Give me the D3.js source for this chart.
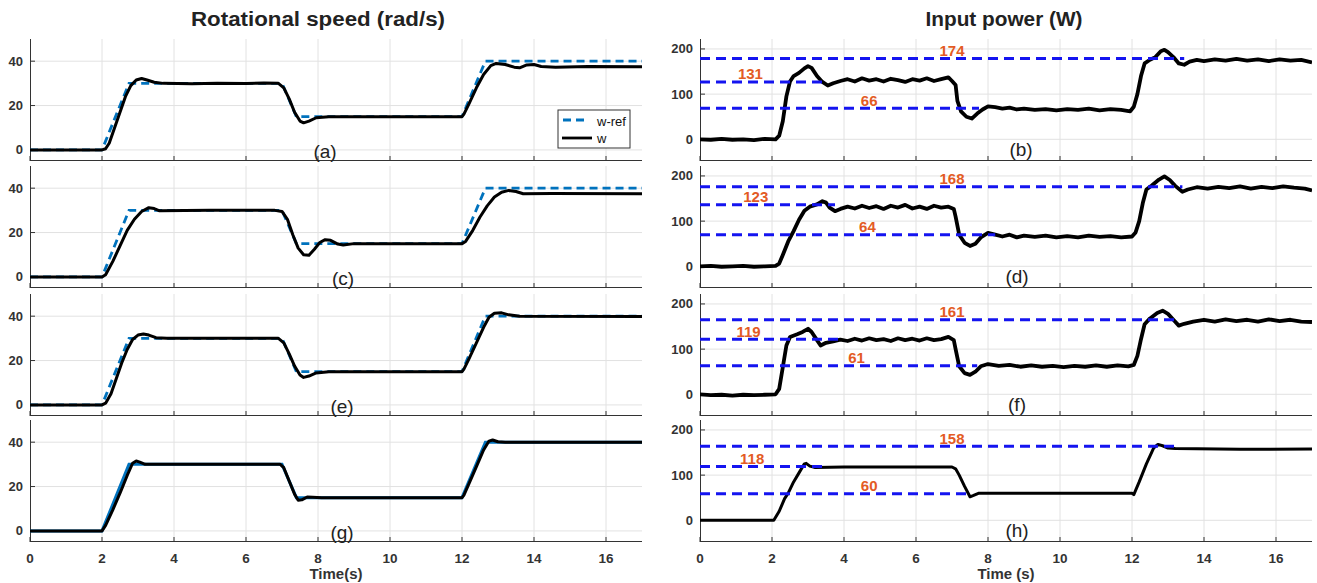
<!DOCTYPE html>
<html lang="en">
<head>
    <meta charset="UTF-8">
    <title>Rotational speed and input power</title>
    <script src="https://d3js.org/d3.v7.min.js"></script>
    <style>
        body {
            margin: 0;
            padding: 0;
            background: #fff;
            font-family: "Liberation Sans", Arial, sans-serif;
        }
        .grid line {
            stroke: #e2e2e2;
            stroke-width: 1px;
        }
        .tick-label {
            font-size: 13px;
            font-weight: bold;
            fill: #333;
        }
        .panel-tag {
            font-size: 19px;
            fill: #222;
        }
        .level-label {
            font-size: 15px;
            font-weight: bold;
            fill: #e35b24;
        }
    </style>
</head>
<body>
<svg width="1317" height="583"></svg>
<script>
    // ---- data ----
    const timeTicks = [0, 2, 4, 6, 8, 10, 12, 14, 16];
    const speedTicks = [0, 20, 40];
    const powerTicks = [0, 100, 200];

    // speed reference (same for every controller)
    const wRef = [[0, 0], [2, 0], [2.75, 30], [7, 30], [7.4, 15], [12, 15], [12.65, 40], [17, 40]];

    const wA = [[0, 0], [2, 0], [2.1, 0.5], [2.2, 3], [2.35, 10], [2.5, 17], [2.65, 24], [2.8, 29], [2.95, 31.5],
        [3.1, 32.2], [3.25, 31.5], [3.45, 30.5], [3.7, 30], [4.5, 29.8], [5.2, 30.1], [6, 29.9], [6.5, 30.2], [6.9, 30],
        [7.05, 28], [7.2, 23], [7.35, 17], [7.5, 13], [7.6, 12.2], [7.75, 13], [7.95, 14.5], [8.3, 15], [12, 15],
        [12.05, 16], [12.2, 21], [12.4, 28], [12.6, 34], [12.8, 38], [12.95, 39], [13.2, 38.5], [13.45, 37.3],
        [13.6, 37], [13.8, 38.3], [14.0, 38.5], [14.2, 37.6], [14.6, 37.3], [15.5, 37.6], [17, 37.5]];

    const wC = [[0, 0], [2, 0], [2.1, 1], [2.3, 7], [2.5, 14], [2.7, 21], [2.9, 26], [3.1, 29.5], [3.3, 31.2],
        [3.45, 30.8], [3.6, 29.8], [5, 30], [6.8, 30], [7.0, 29.5], [7.15, 26], [7.3, 19], [7.45, 13], [7.6, 10],
        [7.75, 9.8], [7.9, 12.5], [8.05, 15.5], [8.2, 16.8], [8.35, 16.5], [8.55, 14.8], [8.7, 14.4], [9.0, 15],
        [12, 15], [12.1, 16], [12.3, 21], [12.5, 27], [12.7, 32], [12.9, 36], [13.1, 38.2], [13.3, 39], [13.5, 38.5],
        [13.7, 37.5], [14.5, 37.6], [17, 37.5]];

    const wE = [[0, 0], [2, 0], [2.1, 0.8], [2.25, 5], [2.4, 12], [2.55, 19], [2.7, 25], [2.85, 29.5], [3.0, 31.5],
        [3.15, 32], [3.3, 31.5], [3.5, 30.3], [3.8, 30], [6.9, 30], [7.05, 28], [7.2, 23], [7.35, 17.5], [7.5, 13.5],
        [7.6, 12.4], [7.75, 13], [7.95, 14.4], [8.3, 15], [12, 15], [12.05, 16], [12.2, 21], [12.4, 28], [12.6, 35],
        [12.75, 39.5], [12.9, 41.3], [13.1, 41.5], [13.3, 40.6], [13.6, 40], [17, 39.8]];

    const wG = [[0, 0], [2, 0], [2.1, 2.5], [2.3, 9.5], [2.5, 17], [2.7, 25], [2.85, 30.5], [2.95, 31.5], [3.05, 31],
        [3.2, 30], [6.95, 30], [7.05, 28.5], [7.2, 22.5], [7.35, 16.5], [7.45, 13.8], [7.55, 14], [7.7, 15.3],
        [7.85, 15.2], [8.1, 15], [12, 15], [12.05, 16], [12.2, 21.5], [12.4, 29], [12.6, 36.5], [12.75, 40.5],
        [12.85, 41], [13.0, 40.2], [13.2, 40], [17, 40]];

    const pB = [[0, 0], [0.3, -1], [0.6, 1], [0.9, -1], [1.2, 0], [1.5, -2], [1.8, 1], [2.1, 0],
        [2.2, 8], [2.3, 40], [2.4, 95], [2.5, 128], [2.6, 140], [2.75, 147], [2.9, 157], [3.0, 162], [3.1, 158],
        [3.25, 140], [3.4, 127], [3.55, 119], [3.7, 124], [3.9, 129],
        [4.1, 133], [4.3, 128], [4.5, 135], [4.7, 130], [4.9, 133], [5.1, 128], [5.3, 134], [5.5, 131], [5.7, 127],
        [5.9, 133], [6.1, 130], [6.3, 135], [6.5, 129], [6.7, 133], [6.9, 137], [7.0, 129],
        [7.1, 120], [7.15, 85], [7.25, 62], [7.4, 50], [7.55, 46], [7.7, 57], [7.85, 66], [8.0, 73], [8.2, 71],
        [8.4, 68], [8.6, 70], [8.8, 66], [9.0, 68], [9.3, 65], [9.6, 67], [9.9, 64], [10.2, 67], [10.5, 65],
        [10.8, 68], [11.1, 64], [11.4, 67], [11.7, 65], [11.95, 62],
        [12.05, 72], [12.15, 100], [12.25, 140], [12.35, 168], [12.5, 176], [12.65, 182], [12.8, 195], [12.9, 198],
        [13.0, 193], [13.15, 182], [13.3, 168], [13.45, 165], [13.6, 172], [13.8, 176], [14.0, 173], [14.3, 177],
        [14.6, 174], [14.9, 178], [15.2, 174], [15.5, 177], [15.8, 173], [16.1, 177], [16.4, 174], [16.7, 176], [17, 170]];

    const pD = [[0, 0], [0.3, 1], [0.6, -1], [0.9, 0], [1.2, 1], [1.5, -1], [1.8, 0], [2.1, 1],
        [2.2, 6], [2.3, 25], [2.45, 55], [2.6, 78], [2.75, 103], [2.9, 123], [3.05, 132], [3.25, 137], [3.4, 144],
        [3.5, 141], [3.6, 130], [3.75, 122], [3.9, 127],
        [4.1, 132], [4.3, 128], [4.5, 134], [4.7, 129], [4.9, 133], [5.1, 127], [5.3, 134], [5.5, 130], [5.7, 136],
        [5.9, 128], [6.1, 132], [6.3, 127], [6.5, 134], [6.7, 130], [6.9, 132], [7.05, 127],
        [7.1, 110], [7.2, 70], [7.35, 52], [7.5, 45], [7.65, 50], [7.8, 64], [8.0, 74], [8.2, 70], [8.4, 66],
        [8.6, 70], [8.8, 64], [9.0, 68], [9.3, 65], [9.6, 68], [9.9, 64], [10.2, 67], [10.5, 64], [10.8, 68],
        [11.1, 65], [11.4, 67], [11.7, 64], [12.0, 66],
        [12.1, 75], [12.2, 100], [12.3, 140], [12.4, 170], [12.55, 179], [12.75, 192], [12.9, 199], [13.05, 191],
        [13.2, 178], [13.4, 165], [13.55, 170], [13.8, 175], [14.1, 172], [14.4, 176], [14.7, 173], [15.0, 177],
        [15.3, 172], [15.6, 176], [15.9, 173], [16.2, 177], [16.5, 174], [16.8, 172], [17, 168]];

    const pF = [[0, 0], [0.3, -2], [0.6, -1], [0.9, -3], [1.2, -1], [1.5, -2], [1.8, -1], [2.1, 0],
        [2.2, 12], [2.3, 60], [2.4, 108], [2.5, 127], [2.7, 133], [2.85, 138], [3.0, 145], [3.1, 138], [3.25, 120],
        [3.35, 108], [3.5, 114], [3.7, 117],
        [3.9, 121], [4.1, 118], [4.3, 123], [4.5, 119], [4.7, 124], [4.9, 120], [5.1, 122], [5.3, 118], [5.5, 124],
        [5.7, 120], [5.9, 123], [6.1, 119], [6.3, 124], [6.5, 120], [6.7, 122], [6.9, 127], [7.05, 120],
        [7.1, 100], [7.2, 62], [7.35, 47], [7.5, 43], [7.65, 50], [7.8, 62], [8.0, 67], [8.3, 63], [8.6, 65],
        [8.9, 61], [9.2, 64], [9.5, 61], [9.8, 63], [10.1, 60], [10.4, 63], [10.7, 61], [11.0, 64], [11.3, 61],
        [11.6, 64], [11.9, 62], [12.05, 65],
        [12.15, 85], [12.25, 122], [12.35, 155], [12.5, 168], [12.7, 180], [12.85, 185], [13.0, 178], [13.15, 165],
        [13.3, 152], [13.45, 156], [13.7, 161], [14.0, 165], [14.3, 161], [14.6, 166], [14.9, 162], [15.2, 165],
        [15.5, 161], [15.8, 166], [16.1, 162], [16.4, 165], [16.7, 161], [17, 160]];

    const pH = [[0, 0], [2.05, 0], [2.2, 20], [2.35, 48], [2.45, 60], [2.6, 85], [2.75, 105], [2.9, 125], [2.95, 126],
        [3.05, 120], [3.2, 117], [4, 118], [6, 118], [7.0, 118], [7.1, 114], [7.2, 100], [7.35, 75], [7.5, 52],
        [7.6, 55], [7.75, 60], [9, 60], [12.0, 60], [12.05, 57], [12.2, 85], [12.4, 125], [12.6, 160], [12.72, 168],
        [12.85, 165], [13.0, 160], [13.2, 159], [15, 157], [17, 158]];

    // dashed power levels: line value, end time, label text, label time
    const levelsB = [[179, 13.45, "174", 7.0], [127, 3.5, "131", 1.4], [69, 7.75, "66", 4.7]];
    const levelsD = [[176, 13.4, "168", 7.0], [136, 3.75, "123", 1.55], [70, 8.2, "64", 4.65]];
    const levelsF = [[165, 13.3, "161", 7.0], [122, 3.9, "119", 1.35], [63, 7.7, "61", 4.35]];
    const levelsH = [[164, 13.2, "158", 7.0], [119, 3.4, "118", 1.45], [59, 7.4, "60", 4.7]];

    const panelTags = ["(a)", "(b)", "(c)", "(d)", "(e)", "(f)", "(g)", "(h)"];

    // ---- layout ----
    const svg = d3.select("svg");
    const rowTops = [39, 166, 294, 420];
    const panelH = 122;
    const panelW = 612;
    const colLeft = [30, 700];

    const x = d3.scaleLinear().domain([0, 17]).range([0, panelW]);

    const speedPanels = [
        {w: wA, ref: "dash", legend: true, tag: panelTags[0], tagX: 295},
        {w: wC, ref: "dash", tag: panelTags[2], tagX: 313},
        {w: wE, ref: "dash", tag: panelTags[4], tagX: 312},
        {w: wG, ref: "solid", tag: panelTags[6], tagX: 312}
    ];
    const powerPanels = [
        {p: pB, levels: levelsB, tag: panelTags[1], tagX: 321, sw: 3.8},
        {p: pD, levels: levelsD, tag: panelTags[3], tagX: 317, sw: 3.8},
        {p: pF, levels: levelsF, tag: panelTags[5], tagX: 317, sw: 3.8},
        {p: pH, levels: levelsH, tag: panelTags[7], tagX: 317, sw: 3}
    ];

    const line = (xs, ys) => d3.line().x(d => xs(d[0])).y(d => ys(d[1]));

    function frame(g, y, yTicks, isBottom) {
        // grid
        const grid = g.append("g").attr("class", "grid");
        grid.selectAll(".gx").data(timeTicks.slice(1)).enter().append("line")
            .attr("x1", d => x(d)).attr("x2", d => x(d))
            .attr("y1", 0).attr("y2", panelH);
        grid.selectAll(".gy").data(yTicks).enter().append("line")
            .attr("x1", 0).attr("x2", panelW)
            .attr("y1", d => y(d)).attr("y2", d => y(d));

        // axes with ticks pointing inside
        const ax = g.append("g").attr("stroke", "#333").attr("stroke-width", 1);
        ax.append("line").attr("x1", 0.5).attr("x2", 0.5).attr("y1", 0).attr("y2", panelH);
        ax.append("line").attr("x1", 0).attr("x2", panelW).attr("y1", panelH - 0.5).attr("y2", panelH - 0.5);
        ax.selectAll(".tx").data(timeTicks).enter().append("line")
            .attr("x1", d => x(d)).attr("x2", d => x(d))
            .attr("y1", panelH).attr("y2", panelH - 5);
        ax.selectAll(".ty").data(yTicks).enter().append("line")
            .attr("x1", 0).attr("x2", 5)
            .attr("y1", d => y(d)).attr("y2", d => y(d));

        g.selectAll(".yl").data(yTicks).enter().append("text")
            .attr("class", "tick-label")
            .attr("x", -7).attr("y", d => y(d))
            .attr("text-anchor", "end").attr("dominant-baseline", "central")
            .text(d => d);

        if (isBottom) {
            g.selectAll(".xl").data(timeTicks).enter().append("text")
                .attr("class", "tick-label")
                .attr("x", d => x(d)).attr("y", panelH + 16)
                .attr("text-anchor", "middle").attr("dominant-baseline", "central")
                .style("font-size", "13.5px")
                .text(d => d);
        }
    }

    function clip(g, id) {
        svg.append("clipPath").attr("id", id).append("rect")
            .attr("x", 0).attr("y", 0).attr("width", panelW).attr("height", panelH);
        return g.append("g").attr("clip-path", `url(#${id})`);
    }

    // ---- rotational speed column ----
    speedPanels.forEach((pn, i) => {
        const g = svg.append("g").attr("transform", `translate(${colLeft[0]},${rowTops[i]})`);
        const y = d3.scaleLinear().domain([-5, 50]).range([panelH, 0]);
        frame(g, y, speedTicks, i === 3);
        const plot = clip(g, "clip-s" + i);

        plot.append("path").datum(wRef)
            .attr("d", line(x, y))
            .attr("fill", "none")
            .attr("stroke", "#0072bd")
            .attr("stroke-width", pn.ref === "dash" ? 2.8 : 3)
            .attr("stroke-dasharray", pn.ref === "dash" ? "8,5" : null);

        plot.append("path").datum(pn.w)
            .attr("d", line(x, y))
            .attr("fill", "none")
            .attr("stroke", "#000")
            .attr("stroke-width", 3)
            .attr("stroke-linejoin", "round");

        g.append("text").attr("class", "panel-tag")
            .attr("x", pn.tagX).attr("y", panelH - 10)
            .attr("text-anchor", "middle").attr("dominant-baseline", "central")
            .text(pn.tag);

        if (pn.legend) {
            const lg = g.append("g").attr("transform", "translate(528,71)");
            lg.append("rect").attr("width", 72).attr("height", 38)
                .attr("fill", "#fff").attr("stroke", "#333").attr("stroke-width", 1);
            lg.append("line").attr("x1", 5).attr("x2", 30).attr("y1", 10).attr("y2", 10)
                .attr("stroke", "#0072bd").attr("stroke-width", 2.8).attr("stroke-dasharray", "8,5");
            lg.append("line").attr("x1", 4).attr("x2", 34).attr("y1", 28).attr("y2", 28)
                .attr("stroke", "#000").attr("stroke-width", 2.8);
            lg.append("text").attr("x", 39).attr("y", 11).attr("dominant-baseline", "central")
                .style("font-size", "13px").attr("fill", "#111").text("w-ref");
            lg.append("text").attr("x", 39).attr("y", 28).attr("dominant-baseline", "central")
                .style("font-size", "13px").attr("fill", "#111").text("w");
        }
    });

    // ---- input power column ----
    powerPanels.forEach((pn, i) => {
        const g = svg.append("g").attr("transform", `translate(${colLeft[1]},${rowTops[i]})`);
        const y = d3.scaleLinear().domain([-48, 222]).range([panelH, 0]);
        frame(g, y, powerTicks, i === 3);
        const plot = clip(g, "clip-p" + i);

        plot.append("path").datum(pn.p)
            .attr("d", line(x, y))
            .attr("fill", "none")
            .attr("stroke", "#000")
            .attr("stroke-width", pn.sw)
            .attr("stroke-linejoin", "round");

        plot.selectAll(".lvl").data(pn.levels).enter().append("line")
            .attr("x1", 0).attr("x2", d => x(d[1]))
            .attr("y1", d => y(d[0])).attr("y2", d => y(d[0]))
            .attr("stroke", "#1414f0")
            .attr("stroke-width", 3)
            .attr("stroke-dasharray", "10,6");

        g.selectAll(".lvl-label").data(pn.levels).enter().append("text")
            .attr("class", "level-label")
            .attr("x", d => x(d[3])).attr("y", d => y(d[0]) - 8)
            .attr("text-anchor", "middle").attr("dominant-baseline", "central")
            .text(d => d[2]);

        g.append("text").attr("class", "panel-tag")
            .attr("x", pn.tagX).attr("y", panelH - 12)
            .attr("text-anchor", "middle").attr("dominant-baseline", "central")
            .text(pn.tag);
    });

    // ---- titles ----
    svg.append("text").attr("x", 318).attr("y", 19)
        .attr("text-anchor", "middle").attr("dominant-baseline", "central")
        .attr("textLength", 254).attr("lengthAdjust", "spacingAndGlyphs")
        .style("font-size", "20px").style("font-weight", "bold").attr("fill", "#222")
        .text("Rotational speed (rad/s)");
    svg.append("text").attr("x", 1004).attr("y", 19)
        .attr("text-anchor", "middle").attr("dominant-baseline", "central")
        .attr("textLength", 157).attr("lengthAdjust", "spacingAndGlyphs")
        .style("font-size", "20px").style("font-weight", "bold").attr("fill", "#222")
        .text("Input power (W)");

    svg.append("text").attr("x", 336).attr("y", 573)
        .attr("text-anchor", "middle").attr("dominant-baseline", "central")
        .style("font-size", "15px").style("font-weight", "bold").attr("fill", "#333")
        .text("Time(s)");
    svg.append("text").attr("x", 1006).attr("y", 573)
        .attr("text-anchor", "middle").attr("dominant-baseline", "central")
        .style("font-size", "15px").style("font-weight", "bold").attr("fill", "#333")
        .text("Time (s)");
</script>
</body>
</html>
